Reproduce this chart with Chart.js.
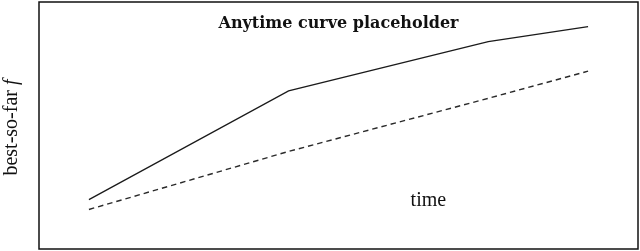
<!DOCTYPE html>
<html>
<head>
<meta charset="utf-8">
<script src="https://cdn.jsdelivr.net/npm/chart.js@4/dist/chart.umd.min.js"></script>
<style>
  html, body { margin: 0; padding: 0; background: #fff; }
  #wrap { width: 640px; height: 251px; }
</style>
</head>
<body>
<div id="wrap"><canvas id="anytime"></canvas></div>
<script>
  // time points and best-so-far values
  const times = [1, 5, 9, 11];
  const solidVals = [2.0, 6.4, 8.4, 9.0];
  const dashedVals = [1.6, 3.95, 6.1, 7.2];

  const titleText = 'Anytime curve placeholder';
  const xLabel = 'time';
  const yLabel = 'best-so-far ';
  const yLabelVar = 'f';

  const serif = '"Liberation Serif", "DejaVu Serif", serif';

  const frame = {
    id: 'frame',
    afterDraw(chart) {
      const { ctx, chartArea: a } = chart;
      ctx.save();
      ctx.strokeStyle = '#111';
      ctx.lineWidth = 1.5;
      ctx.strokeRect(a.left, a.top, a.right - a.left, a.bottom - a.top);

      ctx.fillStyle = '#111';
      ctx.textAlign = 'center';
      ctx.textBaseline = 'middle';
      ctx.font = 'bold 16px "DejaVu Serif", serif';
      ctx.fillText(titleText, (a.left + a.right) / 2, 24);

      ctx.font = '20px ' + serif;
      const xs = chart.scales.x;
      ctx.fillText(xLabel, xs.getPixelForValue(7.8), 201);

      // rotated y label, with italic f
      ctx.translate(12, (a.top + a.bottom) / 2 + 2);
      ctx.rotate(-Math.PI / 2);
      ctx.font = '20px ' + serif;
      const w1 = ctx.measureText(yLabel).width;
      ctx.font = 'italic 20px ' + serif;
      const w2 = ctx.measureText(yLabelVar).width;
      ctx.textAlign = 'left';
      ctx.font = '20px ' + serif;
      ctx.fillText(yLabel, -(w1 + w2) / 2, 0);
      ctx.font = 'italic 20px ' + serif;
      ctx.fillText(yLabelVar, -(w1 + w2) / 2 + w1, 0);
      ctx.restore();
    }
  };

  new Chart(document.getElementById('anytime'), {
    type: 'line',
    data: {
      datasets: [
        { data: times.map((t, i) => ({ x: t, y: solidVals[i] })), borderColor: '#1a1a1a', borderWidth: 1.3, pointRadius: 0, tension: 0 },
        { data: times.map((t, i) => ({ x: t, y: dashedVals[i] })), borderColor: '#2a2a2a', borderWidth: 1.4, borderDash: [5.5, 4], pointRadius: 0, tension: 0 }
      ]
    },
    options: {
      responsive: true,
      maintainAspectRatio: false,
      animation: false,
      layout: { padding: { left: 39, right: 2, top: 2, bottom: 2 } },
      plugins: { legend: { display: false }, tooltip: { enabled: false } },
      scales: {
        x: { type: 'linear', min: 0, max: 12, display: false },
        y: { min: 0, max: 10, display: false }
      }
    },
    plugins: [frame]
  });
</script>
</body>
</html>
